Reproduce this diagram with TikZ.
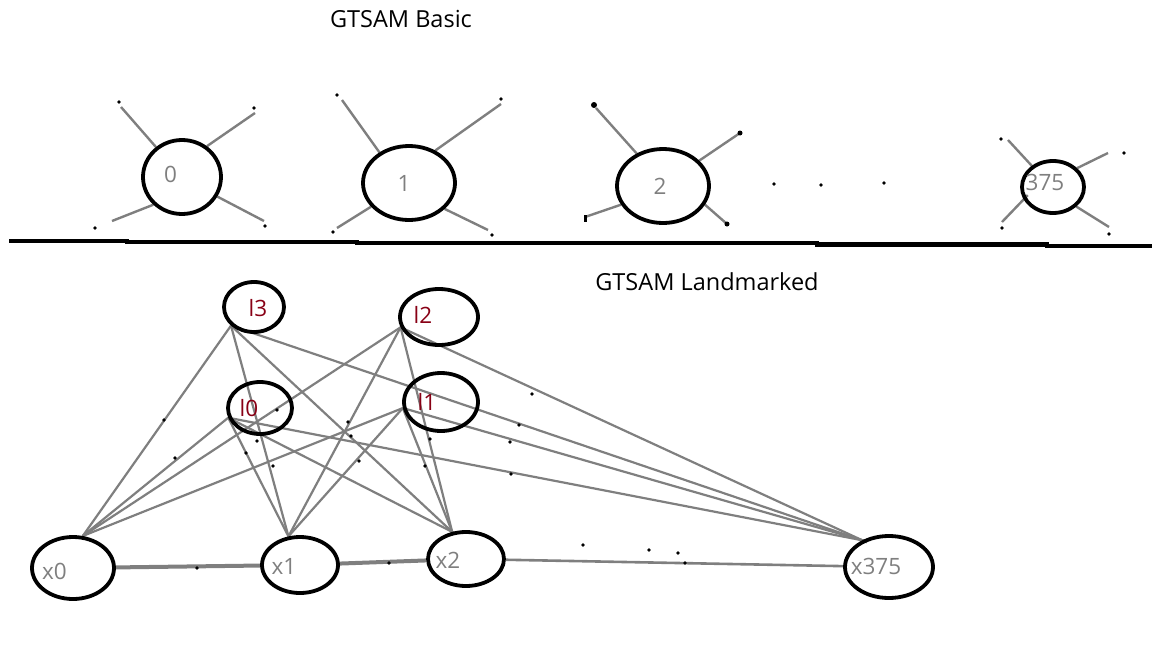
\documentclass[tikz,border=0pt]{standalone}
\usepackage{fontspec}
\setmainfont{Open Sans}
\usetikzlibrary{shapes.geometric,backgrounds}
\definecolor{pgray}{RGB}{127,127,127}
\definecolor{pred}{RGB}{136,0,21}
\tikzset{
  ell/.style={ellipse, draw=black, line width=3.8pt, inner sep=0pt},
  lab/.style={inner sep=0pt, text=pgray, font=\fontsize{22.5}{25}\selectfont},
  lmk/.style={inner sep=0pt, text=pred, font=\fontsize{22.5}{25}\selectfont},
  spoke/.style={draw=pgray, line width=2.4pt},
  fedge/.style={draw=pgray, line width=2.2pt},
  chain/.style={draw=pgray, line width=4pt},
  pt/.style={circle, fill=black, inner sep=0pt, minimum size=3.6pt},
  bigpt/.style={circle, fill=black, inner sep=0pt, minimum size=5pt},
  ttl/.style={inner sep=0pt, text=black, font=\fontsize{23.5}{26}\selectfont},
}
\begin{document}
\begin{tikzpicture}[x=1pt,y=-1pt]
\useasboundingbox (0,0) rectangle (1152,648);
% titles
\node[ttl] (t1) at (401,19) {GTSAM Basic};
\node[ttl] (t2) at (707,282) {GTSAM Landmarked};
% separator line
\draw[line width=4.6pt] (9,241) -- (127,241) -- (127,242) -- (357,242) -- (357,243) -- (817,243) -- (817,244.5) -- (1047,244.5) -- (1047,246) -- (1152,246);

% ---------- GTSAM Basic ----------
\node[ell, minimum width=78pt, minimum height=74pt, label={[lab, xshift=-11.5pt, yshift=3pt]center:0}] (n0) at (182,177) {};
\node[ell, minimum width=92pt, minimum height=74pt, label={[lab, xshift=-5pt]center:1}] (n1) at (409,183) {};
\node[ell, minimum width=92pt, minimum height=74pt, label={[lab, xshift=-3pt]center:2}] (n2) at (663,186) {};
\node[ell, minimum width=62pt, minimum height=52pt, label={[lab, xshift=-8pt, yshift=5pt]center:375}] (n375) at (1053,187) {};

\coordinate (c0a) at (121,107); \coordinate (c0b) at (255,113);
\coordinate (c0c) at (112,221); \coordinate (c0d) at (264,221);
\coordinate (c1a) at (342,100); \coordinate (c1b) at (501,104);
\coordinate (c1c) at (337,228); \coordinate (c1d) at (488,230);
\coordinate (c2a) at (596,108); \coordinate (c2b) at (740,133);
\coordinate (c2c) at (585,217); \coordinate (c2d) at (727,224);
\coordinate (c3a) at (1008,140); \coordinate (c3b) at (1108,153);
\coordinate (c3c) at (1002,222); \coordinate (c3d) at (1109,227);

\begin{scope}[on background layer]
\draw[spoke] (n0.131) -- (c0a);
\draw[spoke] (n0.51) -- (c0b);
\draw[spoke] (n0.224) -- (c0c);
\draw[spoke] (n0.331) -- (c0d);
\draw[spoke] (n1.134) -- (c1a);
\draw[spoke] (n1.51) -- (c1b);
\draw[spoke] (n1.212) -- (c1c);
\draw[spoke] (n1.324) -- (c1d);
\draw[spoke] (n2.129) -- (c2a);
\draw[spoke] (n2.35) -- (c2b);
\draw[spoke] (n2.204) -- (c2c);
\draw[spoke] (n2.336) -- (c2d);
\draw[spoke, shorten <=-2pt] (n375.135) -- (c3a);
\draw[spoke] (n375.38) -- (c3b);
\draw[spoke, shorten <=-6pt] (n375.203) -- (c3c);
\draw[spoke] (n375.320) -- (c3d);
\end{scope}

% spoke end dots
\node[pt] (d0a) at (119,102) {}; \node[pt] (d0b) at (254,108) {};
\node[pt] (d0c) at (95,228) {};  \node[pt] (d0d) at (265,226) {};
\node[pt] (d1a) at (337,95) {};  \node[pt] (d1b) at (501,99) {};
\node[pt] (d1c) at (333,232) {}; \node[pt] (d1d) at (492,235) {};
\node[bigpt, minimum size=6pt] (d2a) at (594,105) {};
\node[bigpt] (d2b) at (740,133) {};
\node[rectangle, fill=black, inner sep=0pt, minimum width=3pt, minimum height=7pt] (d2c) at (585,218) {};
\node[bigpt] (d2d) at (727,224) {};
\node[pt] (d3a) at (1001,139) {}; \node[pt] (d3b) at (1124,153) {};
\node[pt] (d3c) at (1002,228) {}; \node[pt] (d3d) at (1109,234) {};
% ellipsis dots
\node[pt] (e1) at (774,184) {};
\node[pt] (e2) at (821,185) {};
\node[pt] (e3) at (884,183) {};

% ---------- GTSAM Landmarked ----------
\node[ell, minimum width=60pt, minimum height=50pt, label={[lmk, xshift=4pt, yshift=-1.5pt]center:l3}] (l3) at (254,307) {};
\node[ell, minimum width=78pt, minimum height=56pt, label={[lmk, xshift=-16pt, yshift=2pt]center:l2}] (l2) at (439,317) {};
\node[ell, minimum width=64pt, minimum height=52pt, label={[lmk, xshift=-11pt]center:l0}] (l0) at (260,408) {};
\node[ell, minimum width=74pt, minimum height=58pt, label={[lmk, xshift=-14pt]center:l1}] (l1) at (441,402) {};
\node[ell, minimum width=82pt, minimum height=62pt, label={[lab, xshift=-18.5pt, yshift=-3pt]center:x0}] (x0) at (73,568) {};
\node[ell, minimum width=76pt, minimum height=56pt, label={[lab, xshift=-16pt, yshift=-1pt]center:x1}] (x1) at (300,565) {};
\node[ell, minimum width=76pt, minimum height=54pt, label={[lab, xshift=-18pt, yshift=-1pt]center:x2}] (x2) at (466,559) {};
\node[ell, minimum width=88pt, minimum height=62pt, label={[lab, xshift=-13pt, yshift=1pt]center:x375}] (x375) at (889,567) {};

\begin{scope}[on background layer]
\foreach \l/\a in {l3/219, l0/197, l2/195, l1/189} {
  \draw[fedge] (\l.\a) -- (x0.73);
  \draw[fedge] (\l.\a) -- (x1.112);
  \draw[fedge, shorten >=-3pt] (\l.\a) -- (x2.117);
  \draw[fedge, shorten >=-5pt] (\l.\a) -- (x375.135);
}
\draw[chain] (x0) -- (x1);
\draw[chain] (x1) -- (x2);
\draw[fedge, line width=2.6pt] (x2) -- (x375);
\end{scope}
\node[rectangle, fill=black, inner sep=0pt, minimum width=3pt, minimum height=9pt] (blob) at (503,561) {};

% scattered dots
\foreach \p/\q [count=\i] in {164/420, 175/458, 277/410, 257/441, 246/453, 273/466, 348/422, 351/436, 359/461, 430/439, 425/466, 532/394, 519/425, 510/442, 511/474, 197/568, 389/563, 583/545, 649/550, 678/553, 685/563} {
  \node[pt] (s\i) at (\p,\q) {};
}
\end{tikzpicture}
\end{document}
